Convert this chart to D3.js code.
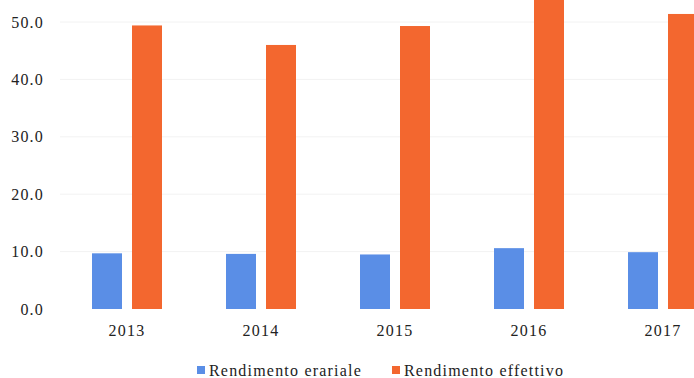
<!DOCTYPE html>
<html>
<head>
<meta charset="utf-8">
<script src="https://cdn.jsdelivr.net/npm/d3@7"></script>
<style>
  html, body { margin: 0; padding: 0; background: #fff; }
</style>
</head>
<body>
<svg id="chart" width="694" height="378"></svg>
<script>
const categories = ["2013", "2014", "2015", "2016", "2017"];
const seriesNames = ["Rendimento erariale", "Rendimento effettivo"];
const erariale = [9.7, 9.6, 9.5, 10.6, 9.9];
const effettivo = [49.4, 46.0, 49.3, 55.0, 51.4];
const yTicks = [0, 10, 20, 30, 40, 50];
const colors = ["#5a8ee6", "#f3672f"];

const FONT = "Liberation Serif";

const svg = d3.select("#chart");

const x0 = d3.scaleBand().domain(categories).range([60, 730]).padding(0);
const x1 = d3.scaleBand().domain(seriesNames)
  .range([32, x0.bandwidth() - 32]).paddingInner(0.25).paddingOuter(0);
const y = d3.scaleLinear().domain([0, 50]).range([309, 22]);

// faint gridlines
svg.append("g").selectAll("line").data(yTicks.filter(d => d > 0)).join("line")
  .attr("x1", 60).attr("x2", 694)
  .attr("y1", d => y(d)).attr("y2", d => y(d))
  .attr("stroke", "#f2f2f2").attr("stroke-width", 1);

const data = categories.map((c, i) => ({ cat: c, vals: [erariale[i], effettivo[i]] }));

const groups = svg.append("g").selectAll("g").data(data).join("g")
  .attr("transform", d => `translate(${x0(d.cat)},0)`);
groups.selectAll("rect").data(d => d.vals.map((v, k) => ({ v, k }))).join("rect")
  .attr("x", d => x1(seriesNames[d.k]))
  .attr("width", x1.bandwidth())
  .attr("y", d => y(d.v))
  .attr("height", d => y(0) - y(d.v))
  .attr("fill", d => colors[d.k]);

function styleText(sel) {
  sel.attr("font-family", FONT).style("font-family", FONT).style("font-size", "16px")
     .style("letter-spacing", "1.2px").style("fill", "#222");
}

// y axis
const yAxis = svg.append("g").attr("transform", "translate(44,0)")
  .call(d3.axisLeft(y).tickValues(yTicks).tickFormat(d3.format(".1f")).tickSize(0).tickPadding(0));
yAxis.select(".domain").remove();
yAxis.attr("font-family", FONT);
yAxis.selectAll("text").call(styleText);

// x axis
const xAxis = svg.append("g").attr("transform", `translate(0,${y(0)})`)
  .call(d3.axisBottom(x0).tickSize(0).tickPadding(16));
xAxis.select(".domain").remove();
xAxis.attr("font-family", FONT);
xAxis.selectAll("text").call(styleText);

// legend
const legendX = [197, 392];
const legend = svg.append("g").selectAll("g").data(seriesNames).join("g")
  .attr("transform", (d, i) => `translate(${legendX[i]},0)`);
legend.append("rect").attr("x", 0).attr("y", 366).attr("width", 8).attr("height", 8)
  .attr("fill", (d, i) => colors[i]);
legend.append("text").attr("x", 12).attr("y", 376).text(d => d).call(styleText);
</script>
</body>
</html>
